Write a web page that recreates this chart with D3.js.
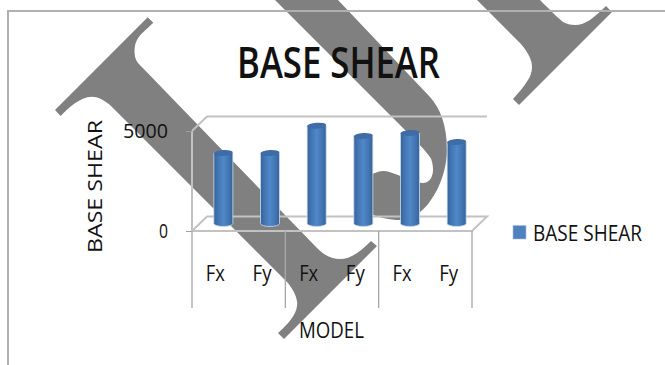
<!DOCTYPE html>
<html>
<head>
<meta charset="utf-8">
<script src="https://cdnjs.cloudflare.com/ajax/libs/d3/7.8.5/d3.min.js"></script>
<style>
html,body{margin:0;padding:0;background:#fff}
svg{display:block}
text{font-family:"Open Sans",sans-serif;fill:#111}
</style>
</head>
<body>
<svg id="chart" width="665" height="365"></svg>
<script>
// Series values and labels
const categories = ["Fx","Fy","Fx","Fy","Fx","Fy"];
const baseShear = [3525,3525,4890,4375,4525,4075];
const valueTicks = [0,5000];
const chartTitle = "BASE SHEAR";
const valueTitle = "BASE SHEAR";
const categoryTitle = "MODEL";
const legendLabel = "BASE SHEAR";
const groups = ["A","B","C"];

const svg = d3.select("#chart");
const ids = d3.range(categories.length);

// Scales: front plane for the axes, shifted depth plane for the columns
const yAxisScale = d3.scaleLinear().domain([0,5000]).range([231,131]);
const yBar = d3.scaleLinear().domain([0,5000]).range([223.5,123.5]);
const xAxisScale = d3.scaleBand().domain(ids).range([192,472]);
const xBar = d3.scaleBand().domain(ids).range([200,480]);
const xGroup = d3.scaleBand().domain(groups).range([192,472]);
const depth = {dx:15, dy:-14.5};

// Gradient for the cylinders
const defs = svg.append("defs");
const grad = defs.append("linearGradient").attr("id","cyl");
[[0,"#33639c"],[0.2,"#4274b0"],[0.5,"#5088ca"],[0.8,"#4274b0"],[1,"#33639c"]]
  .forEach(([o,c]) => grad.append("stop").attr("offset",o).attr("stop-color",c));

// Diagonal overlay strokes behind the plot
const overlay = svg.append("g").attr("fill","#808080");
const overlayPaths = [
  "M147.7,17.3 L55,110 L60.7,116 C68,108 80,97 91.7,96.7 C98,96.7 104,100 110,105 L288,283 C295,292 298,300 297,306 C296,315 288,324 278,333 L284,339 L377,246 L371,241 C362,250 352,259 340,259 C332,259 325,256 317,248 L138,63 C133,57 134,45 137,40 C140,34 146,30 153.3,22.7 Z",
  "M275,0 L338,0 L430,97 C440,108 447,125 447,150 C447,165 442,180 437,190 C430,203 425,208 420,212 C412,218 405,220 400,220 C390,220 380,218 365,212 L365,178 C372,174 378,171 383,171 C388,171 392,173 398,175 C405,178 415,183 423,183 C430,183 433,176 433,170 C433,165 432,160 430,157 C425,150 415,140 407,132 L390,115 Z",
  "M477,0 L520,43 C528,52 532,60 532,67 C532,72 530,77 528,80 C524,87 518,93 513,99 L519,105 L612,12 L606,6 C600,12 595,16 590,20 C585,23 580,25 575,25 C570,25 567,24 563,22 C558,18 550,10 540,0 Z"
];
overlay.selectAll("path").data(overlayPaths).join("path").attr("d",d=>d);

// Outer chart frame, open on the right and bottom
svg.append("path").attr("d","M8,365 V11 H665")
  .attr("fill","none").attr("stroke","#b0b0b0").attr("stroke-width",2);

// 3D walls and floor
const wallColor = "#c2c2c2";
const frontL = xGroup.range()[0], frontR = xGroup.range()[1];
const base = yAxisScale(0);
const topFront = yAxisScale(5000);
const wall = svg.append("g").attr("fill","none").attr("stroke",wallColor).attr("stroke-width",2);
wall.append("path").attr("d",`M${frontL},${topFront} V${base} H${frontR} L${frontR+depth.dx},${base+depth.dy} H${frontL+depth.dx} L${frontL},${base}`);
wall.append("path").attr("d",`M${frontL},${topFront} L${frontL+depth.dx},${topFront+depth.dy} H${frontR+depth.dx}`);

// Cylindrical columns
const barW = 19, capR = 3;
const bars = svg.append("g").selectAll("g").data(baseShear).join("g");
bars.append("path")
  .attr("d",(d,i)=>{
    const x0 = xBar(i) + (xBar.bandwidth()-barW)/2;
    const yT = yBar(d), yB = yBar(0);
    return `M${x0},${yT} V${yB} A${barW/2},${capR} 0 0 0 ${x0+barW},${yB} V${yT} Z`;
  })
  .attr("fill","url(#cyl)").attr("stroke","#cfdbe9").attr("stroke-width",0.8);
bars.append("ellipse")
  .attr("cx",(d,i)=>xBar(i)+xBar.bandwidth()/2)
  .attr("cy",d=>yBar(d))
  .attr("rx",barW/2).attr("ry",capR)
  .attr("transform",(d,i)=>`rotate(-4 ${xBar(i)+xBar.bandwidth()/2} ${yBar(d)})`)
  .attr("fill","#3d6ca6");

// Value axis
const yAxis = d3.axisLeft(yAxisScale).tickValues(valueTicks).tickSize(6).tickFormat(d3.format("d"));
const yG = svg.append("g").attr("transform",`translate(${frontL},0)`).call(yAxis);
yG.select(".domain").remove();
yG.selectAll("line").attr("stroke","#a0a0a0");
yG.selectAll("text").attr("font-size",20).style("font-family",'"Open Sans",sans-serif').attr("fill","#222")
  .attr("x",-24).attr("dy","0.32em")
  .attr("textLength",d=>d===0?9:45).attr("lengthAdjust","spacingAndGlyphs");

// Category axis with group dividers
const xAxis = d3.axisBottom(xAxisScale).tickSize(0).tickPadding(34).tickFormat(i=>categories[i]);
const xG = svg.append("g").attr("transform",`translate(0,${base})`).call(xAxis);
xG.select(".domain").remove();
xG.selectAll("text").attr("font-size",22).style("font-family",'"Open Sans",sans-serif').attr("fill","#222")
  .attr("textLength",19).attr("lengthAdjust","spacingAndGlyphs");

const dividerX = groups.map(g=>xGroup(g)).concat([frontR]);
svg.append("g").selectAll("line").data(dividerX).join("line")
  .attr("x1",d=>d).attr("x2",d=>d).attr("y1",base).attr("y2",308)
  .attr("stroke","#a8a8a8").attr("stroke-width",1.3);

// Titles, squeezed to the narrow face of the chart
function label(text,x,y,size,len,weight){
  return svg.append("text").text(text).attr("x",x).attr("y",y)
    .attr("font-size",size).attr("font-weight",weight||400)
    .attr("textLength",len).attr("lengthAdjust","spacingAndGlyphs");
}
label(chartTitle,237,78,43,203,600).attr("fill","#000");
label(categoryTitle,299,338,22,65,400);
svg.append("text").text(valueTitle)
  .attr("transform","translate(102,253) rotate(-90)")
  .attr("font-size",20).attr("font-weight",500)
  .attr("textLength",133).attr("lengthAdjust","spacingAndGlyphs");

// Legend
svg.append("rect").attr("x",513).attr("y",225.5).attr("width",13).attr("height",13.5)
  .attr("fill","#4f81bd").attr("stroke","#a9c0dd").attr("stroke-width",0.6);
label(legendLabel,533,241,21,109,400);
</script>
</body>
</html>
